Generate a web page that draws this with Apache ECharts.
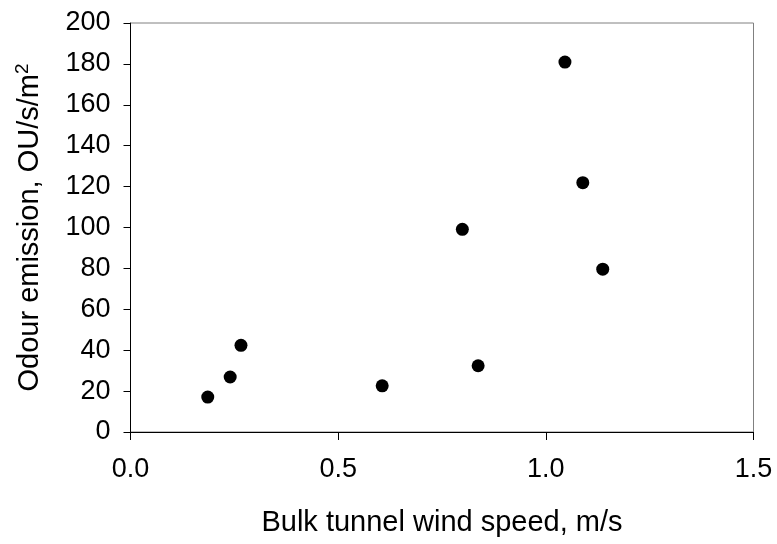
<!DOCTYPE html>
<html>
<head>
<meta charset="utf-8">
<script src="https://cdn.jsdelivr.net/npm/echarts@6/dist/echarts.min.js"></script>
<style>
  html, body { margin: 0; padding: 0; background: #fff; }
  #chart { width: 777px; height: 544px; }
</style>
</head>
<body>
<div id="chart"></div>
<script>
  // wind speed (m/s) and odour emission (OU/s/m2)
  var windSpeed = [0.186, 0.240, 0.266, 0.606, 0.799, 0.837, 1.046, 1.089, 1.137];
  var odourEmission = [17.1, 26.9, 42.4, 22.6, 99.1, 32.4, 180.9, 121.9, 79.6];

  var points = [];
  for (var i = 0; i < windSpeed.length; i++) {
    points.push([windSpeed[i], odourEmission[i]]);
  }

  var font = 'Liberation Sans, Arial, sans-serif';

  var chart = echarts.init(document.getElementById('chart'));
  var option = {
    animation: false,
    backgroundColor: '#fff',
    grid: {
      left: 130.5,
      right: 23.5,
      top: 23,
      bottom: 112,
      show: true,
      borderColor: '#808080',
      borderWidth: 1
    },
    xAxis: {
      type: 'value',
      min: 0,
      max: 1.5,
      interval: 0.5,
      name: 'Bulk tunnel wind speed, m/s',
      nameLocation: 'middle',
      nameGap: 76,
      nameTextStyle: { fontFamily: font, fontSize: 29, color: '#000' },
      axisLine: { lineStyle: { color: '#000', width: 1 } },
      axisTick: { length: 8, lineStyle: { color: '#000' } },
      axisLabel: {
        margin: 24,
        fontFamily: font,
        fontSize: 27,
        color: '#000',
        formatter: function (v) { return v.toFixed(1); }
      },
      splitLine: { show: false }
    },
    yAxis: {
      type: 'value',
      min: 0,
      max: 200,
      interval: 20,
      name: 'Odour emission, OU/s/m{sup|2}',
      nameLocation: 'middle',
      nameGap: 84,
      nameTextStyle: {
        fontFamily: font,
        fontSize: 29,
        color: '#000',
        rich: {
          sup: { fontFamily: font, fontSize: 19, color: '#000', verticalAlign: 'top', padding: [0, 0, 14, 0] }
        }
      },
      axisLine: { show: true, lineStyle: { color: '#000', width: 1 } },
      axisTick: { show: true, length: 7, lineStyle: { color: '#000' } },
      axisLabel: {
        margin: 20,
        fontFamily: font,
        fontSize: 27,
        color: '#000'
      },
      splitLine: { show: false }
    },
    series: [{
      type: 'scatter',
      data: points,
      symbol: 'circle',
      symbolSize: 13,
      itemStyle: { color: '#000', opacity: 1 }
    }]
  };
  chart.setOption(option);
</script>
</body>
</html>
